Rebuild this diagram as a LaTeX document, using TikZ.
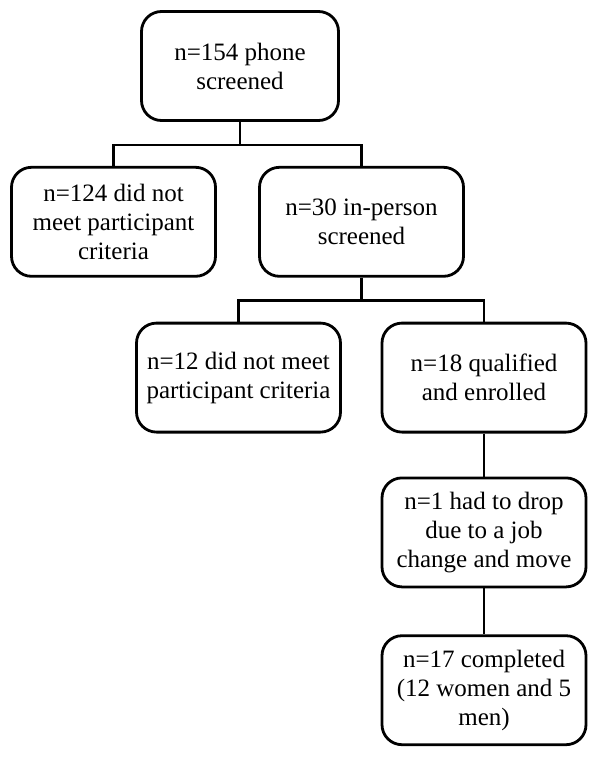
\documentclass[tikz,border=0pt]{standalone}
\usepackage{fontspec}
\setmainfont{Liberation Serif}
\usepackage{tikz}
\usetikzlibrary{arrows.meta, positioning}

\begin{document}
\begin{tikzpicture}[
      font=\fontsize{25}{29}\selectfont,
      box/.style={draw, line width=2.8pt, rounded corners=20pt, align=center, minimum width=204pt, minimum height=109pt, inner sep=2pt},
      link/.style={line width=2.8pt}
    ]
      \useasboundingbox (0,0) rectangle (602pt,-761pt);
      \node[box, minimum width=197pt] (phone) at (240pt,-66pt) {n=154 phone\\screened};
      \node[box, below=44pt of phone, xshift=-126.5pt] (notmet1) {n=124 did not\\meet participant\\criteria};
      \node[box, below=44pt of phone, xshift=121.5pt] (inperson) {n=30 in-person\\screened};
      \node[box, below=44pt of inperson, xshift=-123pt] (notmet2) {n=12 did not meet\\participant criteria};
      \node[box, below=44pt of inperson, xshift=122.5pt] (enrolled) {n=18 qualified\\and enrolled};
      \node[box, below=43pt of enrolled] (drop) {n=1 had to drop\\due to a job\\change and move};
      \node[box, below=46pt of drop] (done) {n=17 completed\\(12 women and 5\\men)};
      \draw[link] (phone.south) -- ++(0,-23pt) -| (notmet1.north);
      \draw[link] (phone.south) -- ++(0,-23pt) -| (inperson.north);
      \draw[link] (inperson.south) -- ++(0,-23pt) -| (notmet2.north);
      \draw[link] (inperson.south) -- ++(0,-23pt) -| (enrolled.north);
      \draw[link] (enrolled) -- (drop);
      \draw[link] (drop) -- (done);
    \end{tikzpicture}
\end{document}
